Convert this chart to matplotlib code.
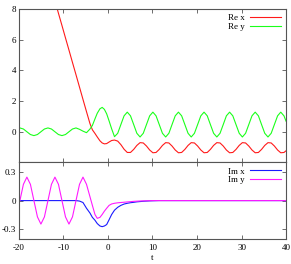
import matplotlib
matplotlib.use("Agg")
import matplotlib.pyplot as plt

t = [-20, -19.78, -18.99, -18.21, -17.42, -16.63, -15.84, -15.06, -14.27, -13.48,
     -12.69, -11.91, -11.12, -10.33, -9.54, -8.76, -7.97, -7.18, -6.39, -5.61,
     -4.82, -4.04, -3.5, -2.92, -2.4, -1.8, -1.3, -0.8, -0.29, 0.25,
     0.83, 1.47, 2.19, 2.9, 3.62, 4.34, 5.06, 5.78, 6.49, 7.21,
     7.93, 8.65, 9.37, 10.09, 10.8, 11.52, 12.24, 12.96, 13.68, 14.39,
     15.11, 15.83, 16.55, 17.27, 17.99, 18.7, 19.42, 20.14, 20.86, 21.58,
     22.3, 23.01, 23.73, 24.45, 25.17, 25.89, 26.6, 27.32, 28.04, 28.76,
     29.48, 30.19, 30.91, 31.63, 32.35, 33.07, 33.79, 34.5, 35.22, 35.94,
     36.66, 37.38, 38.1, 38.81, 39.53, 40]

re_x = [16.78, 16.56, 15.75, 14.96, 14.15, 13.35, 12.54, 11.74, 10.94, 10.13,
        9.33, 8.53, 7.72, 6.92, 6.11, 5.32, 4.51, 3.71, 2.9, 2.1,
        1.3, 0.52, 0.12, -0.12, -0.35, -0.6, -0.74, -0.8, -0.78, -0.68,
        -0.58, -0.55, -0.62, -0.85, -1.15, -1.36, -1.36, -1.16, -0.9, -0.72,
        -0.74, -0.94, -1.2, -1.38, -1.36, -1.16, -0.9, -0.72, -0.74, -0.94,
        -1.2, -1.38, -1.36, -1.16, -0.9, -0.72, -0.74, -0.94, -1.2, -1.38,
        -1.36, -1.16, -0.9, -0.72, -0.74, -0.94, -1.2, -1.38, -1.36, -1.16,
        -0.9, -0.72, -0.74, -0.94, -1.2, -1.38, -1.36, -1.16, -0.9, -0.72,
        -0.74, -0.94, -1.2, -1.38, -1.36, -1.25]

re_y = [0.23, 0.24, 0.17, -0.01, -0.19, -0.26, -0.19, -0.01, 0.17, 0.24,
        0.17, -0.01, -0.19, -0.26, -0.19, -0.01, 0.17, 0.24, 0.15, 0.03,
        -0.07, 0.17, 0.4, 0.83, 1.2, 1.49, 1.58, 1.45, 1.16, 0.7,
        0.18, -0.33, -0.11, 0.46, 1.03, 1.27, 1.03, 0.46, -0.11, -0.35,
        -0.11, 0.46, 1.03, 1.27, 1.03, 0.46, -0.11, -0.35, -0.11, 0.46,
        1.03, 1.27, 1.03, 0.46, -0.11, -0.35, -0.11, 0.46, 1.03, 1.27,
        1.03, 0.46, -0.11, -0.35, -0.11, 0.46, 1.03, 1.27, 1.03, 0.46,
        -0.11, -0.35, -0.11, 0.46, 1.03, 1.27, 1.03, 0.46, -0.11, -0.35,
        -0.11, 0.46, 1.03, 1.27, 1.03, 0.68]

im_x = [0.0, 0.0, 0.0, 0.0, 0.0, 0.0, 0.0, 0.0, 0.0, 0.0,
        0.0, 0.0, 0.0, 0.0, 0.0, 0.0, 0.0, 0.0, -0.005, -0.02,
        -0.08, -0.13, -0.175, -0.205, -0.24, -0.265, -0.272, -0.265, -0.25, -0.2,
        -0.145, -0.1, -0.07, -0.05, -0.036, -0.028, -0.022, -0.018, -0.013, -0.01,
        -0.007, -0.005, -0.003, -0.002, -0.001, 0.0, 0.0, 0.0, 0.0, 0.0,
        0.0, 0.0, 0.0, 0.0, 0.0, 0.0, 0.0, 0.0, 0.0, 0.0,
        0.0, 0.0, 0.0, 0.0, 0.0, 0.0, 0.0, 0.0, 0.0, 0.0,
        0.0, 0.0, 0.0, 0.0, 0.0, 0.0, 0.0, 0.0, 0.0, 0.0,
        0.0, 0.0, 0.0, 0.0, 0.0, 0.0]

im_y = [-0.02, 0.0, 0.17, 0.245, 0.17, 0.0, -0.17, -0.245, -0.17, 0.0,
        0.17, 0.245, 0.17, 0.0, -0.17, -0.245, -0.17, 0.0, 0.17, 0.245,
        0.17, 0.04, -0.05, -0.145, -0.185, -0.175, -0.145, -0.11, -0.08, -0.05,
        -0.035, -0.028, -0.023, -0.02, -0.017, -0.014, -0.011, -0.008, -0.006, -0.004,
        -0.003, -0.002, -0.001, 0.0, 0.0, 0.0, 0.0, 0.0, 0.0, 0.0,
        0.0, 0.0, 0.0, 0.0, 0.0, 0.0, 0.0, 0.0, 0.0, 0.0,
        0.0, 0.0, 0.0, 0.0, 0.0, 0.0, 0.0, 0.0, 0.0, 0.0,
        0.0, 0.0, 0.0, 0.0, 0.0, 0.0, 0.0, 0.0, 0.0, 0.0,
        0.0, 0.0, 0.0, 0.0, 0.0, 0.0]

x_ticks = [-20, -10, 0, 10, 20, 30, 40]
top_yticks = [0, 2, 4, 6, 8]
bot_yticks = [-0.3, 0, 0.3]
bot_yticklabels = ["-0.3", "0", "0.3"]

plt.rcParams['font.family'] = ['Liberation Serif', 'DejaVu Serif']
plt.rcParams['font.size'] = 6.5

fig = plt.figure(figsize=(2.91, 2.64), dpi=100)
gs = fig.add_gridspec(2, 1, height_ratios=[2, 1], hspace=0,
                      left=0.065, right=0.983, top=0.966, bottom=0.095)
ax1 = fig.add_subplot(gs[0])
ax2 = fig.add_subplot(gs[1], sharex=ax1)

lw = 0.8
ax1.plot(t, re_x, color='#ff1a1a', lw=lw, label='Re x')
ax1.plot(t, re_y, color='#1aff1a', lw=lw, label='Re y')
ax2.plot(t, im_x, color='#1a1aff', lw=lw, label='Im x')
ax2.plot(t, im_y, color='#ff1aff', lw=lw, label='Im y')

ax1.set_xlim(-20, 40)
ax1.set_ylim(-2, 8)
ax2.set_ylim(-0.4, 0.4)
ax1.set_yticks(top_yticks)
ax1.set_yticklabels([str(v) for v in top_yticks])
ax2.set_yticks(bot_yticks)
ax2.set_yticklabels(bot_yticklabels)
ax2.set_xticks(x_ticks)
ax2.set_xticklabels([str(v) for v in x_ticks])
ax2.set_xlabel('t', labelpad=1)
plt.setp(ax1.get_xticklabels(), visible=False)

for ax in (ax1, ax2):
    for s in ax.spines.values():
        s.set_color('#555555')
        s.set_linewidth(0.8)
    ax.tick_params(direction='in', length=3, width=0.6, color='#555555',
                   top=True, right=True, pad=2, labelsize=6.5)
    ax.tick_params(axis='x', pad=4)
    leg = ax.legend(loc='upper right', frameon=False, markerfirst=False,
                    handlelength=3.4, handletextpad=0.6, labelspacing=0.05,
                    borderaxespad=0.15, fontsize=6.5)

fig.savefig('out.png', dpi=100)
